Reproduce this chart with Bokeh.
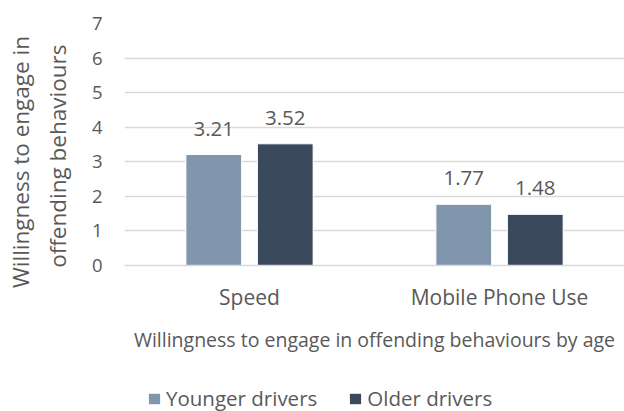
from bokeh.plotting import figure
from bokeh.models import ColumnDataSource, Legend, LegendItem, FactorRange, Range1d
from bokeh.layouts import column
from bokeh.transform import dodge
from bokeh.core.properties import value
from bokeh.embed import file_html
from bokeh.resources import INLINE

categories = ["Speed", "Mobile Phone Use"]
younger = [3.21, 1.77]
older = [3.52, 1.48]
series_names = ["Younger drivers", "Older drivers"]
y_ticks = [0, 1, 2, 3, 4, 5, 6, 7]

FONT = "Open Sans"
TXT = "#595959"
C_Y = "#7F96AD"
C_O = "#3A4A5C"

src = ColumnDataSource(dict(
    cat=categories, younger=younger, older=older,
    ylab=[f"{v:.2f}" for v in younger], olab=[f"{v:.2f}" for v in older],
))

p = figure(x_range=FactorRange(*categories), y_range=(0, 7),
           width=624, height=355, output_backend="svg", toolbar_location=None,
           min_border_left=124, min_border_right=0, min_border_top=23, min_border_bottom=88)
p.outline_line_color = None
p.x_range.range_padding = 0

ry = p.vbar(x=dodge("cat", -0.143, range=p.x_range), top="younger", width=0.223,
            source=src, fill_color=C_Y, line_color="white", line_width=1)
ro = p.vbar(x=dodge("cat", 0.143, range=p.x_range), top="older", width=0.223,
            source=src, fill_color=C_O, line_color="white", line_width=1)

for col, lab, off in (("younger", "ylab", -0.143), ("older", "olab", 0.143)):
    p.text(x=dodge("cat", off, range=p.x_range), y=col, text=lab, source=src,
           text_align="center", text_baseline="alphabetic", y_offset=-26,
           text_font=value(FONT), text_font_size="20.5px", text_color=TXT)

NB = "\u00a0"
p.yaxis.ticker = y_ticks
p.yaxis.axis_line_color = None
p.yaxis.major_tick_line_color = None
p.yaxis.minor_tick_line_color = None
p.yaxis.major_tick_out = 0
p.yaxis.major_tick_in = 0
p.yaxis.major_label_standoff = 22
p.yaxis.major_label_text_font = FONT
p.yaxis.major_label_text_font_size = "18.5px"
p.yaxis.major_label_text_color = TXT
p.yaxis.axis_label = "Willingness to engage in" + NB * 6 + "\noffending behaviours" + NB * 4
p.yaxis.axis_label_text_font = FONT
p.yaxis.axis_label_text_font_size = "22.5px"
p.yaxis.axis_label_text_font_style = "normal"
p.yaxis.axis_label_text_color = TXT
p.yaxis.axis_label_standoff = 16

p.xaxis.axis_line_color = "#D9D9D9"
p.xaxis.axis_line_width = 1.5
p.xaxis.major_tick_line_color = None
p.xaxis.minor_tick_line_color = None
p.xaxis.major_tick_out = 0
p.xaxis.major_tick_in = 0
p.xaxis.major_label_standoff = 17
p.xaxis.major_label_text_font = FONT
p.xaxis.major_label_text_font_size = "21px"
p.xaxis.major_label_text_color = TXT
p.xaxis.axis_label = "Willingness to engage in offending behaviours by age"
p.xaxis.axis_label_text_font = FONT
p.xaxis.axis_label_text_font_size = "19.5px"
p.xaxis.axis_label_text_font_style = "normal"
p.xaxis.axis_label_text_color = TXT
p.xaxis.axis_label_standoff = 12

p.xgrid.grid_line_color = None
p.ygrid.grid_line_color = "#D9D9D9"
p.ygrid.grid_line_width = 1.5

# legend strip below the chart
p2 = figure(width=624, height=56, output_backend="svg", toolbar_location=None,
            x_range=Range1d(0, 1), y_range=Range1d(0, 1),
            x_axis_location=None, y_axis_location=None, min_border=0)
p2.outline_line_color = None
p2.grid.grid_line_color = None
ly = p2.vbar(x=[5], top=[5], width=1, fill_color=C_Y, line_color=None)
lo = p2.vbar(x=[5], top=[5], width=1, fill_color=C_O, line_color=None)
legend = Legend(items=[LegendItem(label=series_names[0], renderers=[ly]),
                       LegendItem(label=series_names[1], renderers=[lo])],
                orientation="horizontal", location=(23, -1),
                label_text_font=FONT, label_text_font_size="20.5px", label_text_color=TXT,
                glyph_width=14, glyph_height=13, label_standoff=5, spacing=31,
                label_height=20, padding=0, margin=0, border_line_color=None,
                background_fill_alpha=0)
p2.add_layout(legend, "center")

layout = column(p, p2, spacing=0)
open("out.html", "w").write(file_html(layout, INLINE))
